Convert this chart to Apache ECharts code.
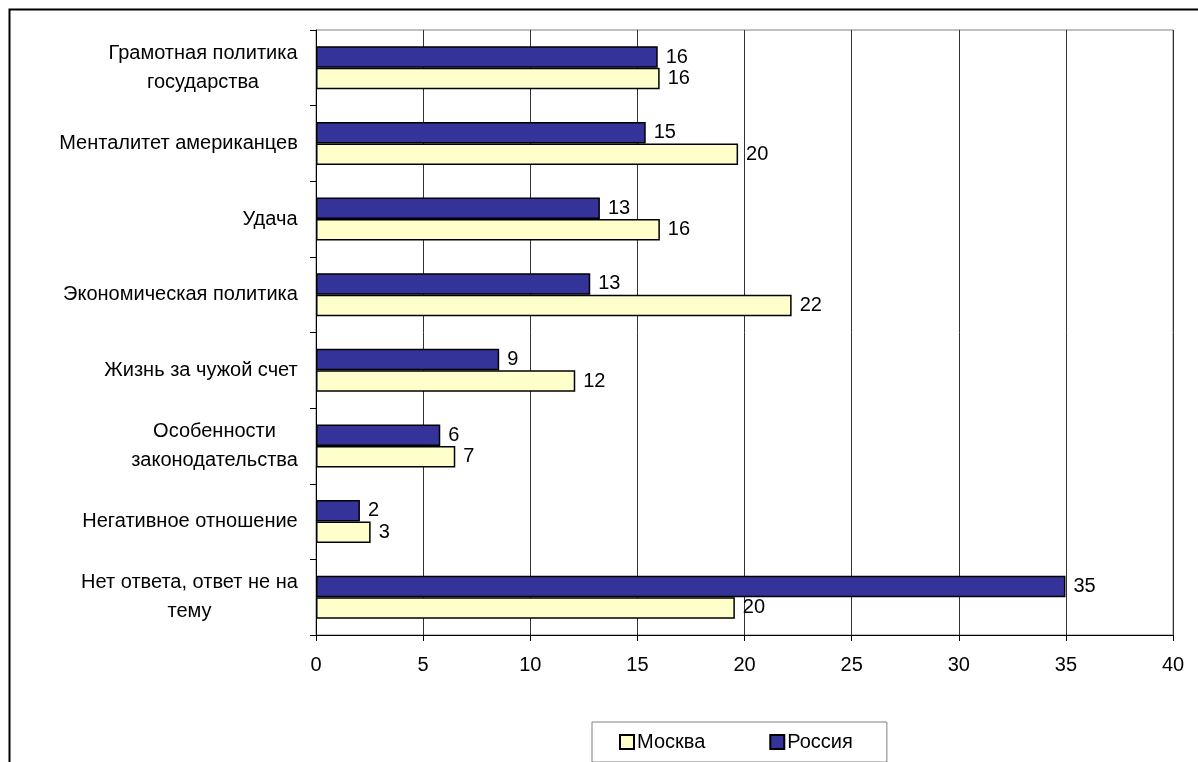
<!DOCTYPE html>
<html>
<head>
<meta charset="utf-8">
<script src="https://cdn.jsdelivr.net/npm/echarts@6/dist/echarts.min.js"></script>
<style>
html,body{margin:0;padding:0;background:#fff;}
#chart{width:1198px;height:762px;}
</style>
</head>
<body>
<div id="chart"></div>
<script>
var categories = [
  'Грамотная политика\nгосударства',
  'Менталитет американцев',
  'Удача',
  'Экономическая политика',
  'Жизнь за чужой счет',
  'Особенности\nзаконодательства',
  'Негативное отношение',
  'Нет ответа, ответ не на\nтему'
];
var russiaValues = [15.95, 15.39, 13.25, 12.8, 8.55, 5.8, 2.05, 34.98];
var moscowValues = [16.04, 19.7, 16.05, 22.2, 12.1, 6.5, 2.55, 19.55];
var xTicks = [0, 5, 10, 15, 20, 25, 30, 35, 40];

var FONT = '"Liberation Sans", Arial, sans-serif';
var FS = 20;
var chart = echarts.init(document.getElementById('chart'), null, {renderer: 'canvas'});
var labelFmt = function (p) { return Math.round(p.value); };

// measure lines so that multi-line labels are centred within their own block
var mctx = document.createElement('canvas').getContext('2d');
mctx.font = FS + 'px ' + FONT;
var rich = {};
categories.forEach(function (c, i) {
  var w = 0;
  c.split('\n').forEach(function (l) { w = Math.max(w, Math.ceil(mctx.measureText(l).width)); });
  rich['c' + i] = {width: w, align: 'center', fontFamily: FONT, fontSize: FS, color: '#000', lineHeight: 29};
});

chart.setOption({
  animation: false,
  backgroundColor: '#fff',
  grid: {
    left: 316, right: 25, top: 30, bottom: 127,
    show: true, borderColor: '#808080', borderWidth: 1, containLabel: false
  },
  legend: {
    data: ['Москва', 'Россия'],
    left: 592, top: 722,
    orient: 'horizontal',
    padding: [10, 34, 10, 27],
    itemGap: 64,
    itemWidth: 14, itemHeight: 14,
    icon: 'rect',
    borderColor: '#808080', borderWidth: 1,
    textStyle: {fontFamily: FONT, fontSize: FS, color: '#000', padding: [0, 0, 0, -2]}
  },
  xAxis: {
    type: 'value',
    min: xTicks[0], max: xTicks[xTicks.length - 1], interval: 5,
    axisLine: {show: true, lineStyle: {color: '#000', width: 1}},
    axisTick: {show: true, length: 6, lineStyle: {color: '#000'}},
    axisLabel: {fontFamily: FONT, fontSize: FS, color: '#000', margin: 20},
    splitLine: {show: true, lineStyle: {color: '#333', width: 1}}
  },
  yAxis: {
    type: 'category',
    data: categories,
    inverse: true,
    axisLine: {show: true, lineStyle: {color: '#000', width: 1}},
    axisTick: {show: true, length: 6, alignWithLabel: false, lineStyle: {color: '#000'}},
    axisLabel: {
      fontFamily: FONT, fontSize: FS, color: '#000', margin: 18,
      align: 'right', lineHeight: 29,
      rich: rich,
      formatter: function (v, idx) {
        return v.split('\n').map(function (l) { return '{c' + idx + '|' + l + '}'; }).join('\n');
      }
    },
    splitLine: {show: false}
  },
  series: [
    {
      name: 'Россия', type: 'bar', data: russiaValues,
      barGap: '0%', barCategoryGap: '43%',
      itemStyle: {color: '#333399', borderColor: '#000', borderWidth: 1.5},
      label: {show: true, position: 'right', distance: 8, fontFamily: FONT, fontSize: FS, color: '#000', formatter: labelFmt}
    },
    {
      name: 'Москва', type: 'bar', data: moscowValues,
      barGap: '0%', barCategoryGap: '43%',
      itemStyle: {color: '#FFFFCC', borderColor: '#000', borderWidth: 1.5},
      label: {show: true, position: 'right', distance: 8, fontFamily: FONT, fontSize: FS, color: '#000', formatter: labelFmt}
    }
  ],
  graphic: [
    {
      type: 'polyline', silent: true,
      shape: {points: [[9.5, 762], [9.5, 9.5], [1198, 9.5]]},
      style: {stroke: '#000', lineWidth: 2, fill: null}
    }
  ]
});
</script>
</body>
</html>
